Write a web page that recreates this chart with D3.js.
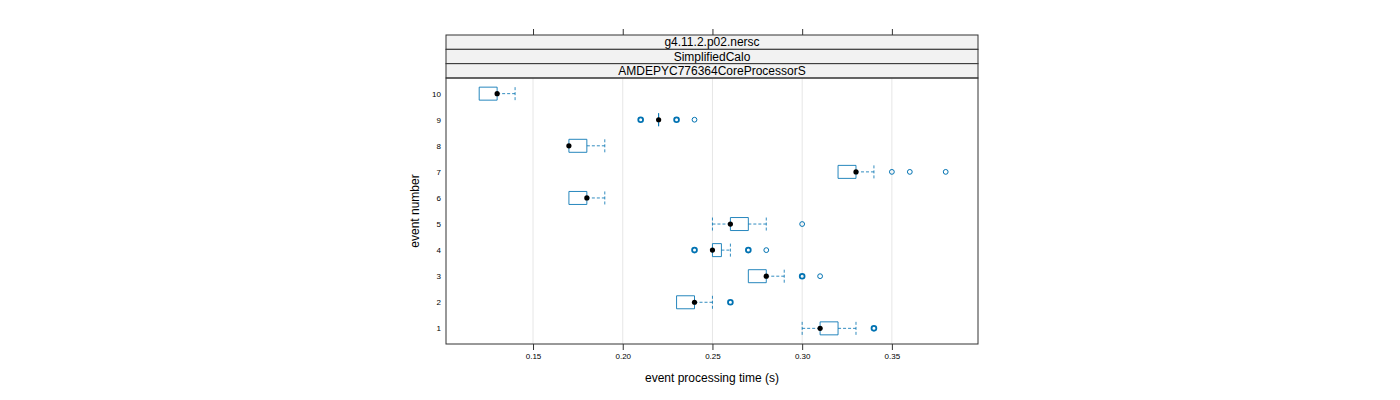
<!DOCTYPE html>
<html><head><meta charset="utf-8">
<script src="https://cdn.jsdelivr.net/npm/d3@7"></script>
<style>body{margin:0;background:#fff;}svg{display:block;font-family:"Liberation Sans",Arial,sans-serif;}</style>
</head><body>
<svg id="c" width="1400" height="400"></svg>
<script>
const events = [1,2,3,4,5,6,7,8,9,10];
const whiskerLo = [0.30,0.23,0.27,0.25,0.25,0.17,0.32,0.17,0.22,0.12];
const q1        = [0.31,0.23,0.27,0.25,0.26,0.17,0.32,0.17,0.22,0.12];
const medians   = [0.31,0.24,0.28,0.25,0.26,0.18,0.33,0.17,0.22,0.13];
const q3        = [0.32,0.24,0.28,0.255,0.27,0.18,0.33,0.18,0.22,0.13];
const whiskerHi = [0.33,0.25,0.29,0.26,0.28,0.19,0.34,0.19,0.22,0.14];
const outliers  = [[0.34,0.34],[0.26,0.26],[0.30,0.30,0.31],[0.24,0.24,0.27,0.27,0.28],[0.30],[],[0.35,0.36,0.38],[],[0.21,0.21,0.23,0.23,0.24],[]];
const xTicks = [0.15,0.20,0.25,0.30,0.35];
const strips = ["g4.11.2.p02.nersc","SimplifiedCalo","AMDEPYC776364CoreProcessorS"];

const svg = d3.select("#c");
const L=446,R=978,T=78,B=344;
const x = d3.scaleLinear().domain([0.1015,0.398]).range([L,R]);
const y = d3.scaleLinear().domain([0.4,10.6]).range([B,T]);
const blue="#0072B2";

// grid
svg.append("g").selectAll("line").data(xTicks).join("line")
  .attr("x1",d=>x(d)).attr("x2",d=>x(d)).attr("y1",T).attr("y2",B)
  .attr("stroke","#e6e6e6").attr("stroke-width",1);

// strips
const sh=(T-35)/3;
strips.forEach((s,i)=>{
  const yy=35+i*sh;
  svg.append("rect").attr("x",L).attr("y",yy).attr("width",R-L).attr("height",sh)
    .attr("fill","#f2f2f2").attr("stroke","#333").attr("stroke-width",1);
  svg.append("text").attr("x",(L+R)/2).attr("y",yy+sh/2+4.3).attr("text-anchor","middle")
    .attr("font-size",12).attr("fill","#000").text(s);
});

// axes
const gBottom = svg.append("g").attr("transform",`translate(0,${B})`)
  .call(d3.axisBottom(x).tickValues(xTicks).tickFormat(d3.format(".2f")).tickSize(6).tickPadding(3));
const gTop = svg.append("g").attr("transform",`translate(0,35)`)
  .call(d3.axisTop(x).tickValues(xTicks).tickFormat("").tickSize(6));
const gLeft = svg.append("g").attr("transform",`translate(${L},0)`)
  .call(d3.axisLeft(y).tickValues(events).tickFormat(d3.format("d")).tickSize(0).tickPadding(5));
[gBottom,gTop,gLeft].forEach(g=>{
  g.select(".domain").remove();
  g.selectAll("line").attr("stroke","#333");
  g.selectAll("text").attr("font-size",8).attr("fill","#000").attr("font-family","Liberation Sans, Arial, sans-serif");
});

// boxes
const gb = svg.append("g");
events.forEach((e,i)=>{
  const cy=y(e), h=13;
  const dash="3,2";
  if (whiskerLo[i] < q1[i]) {
    gb.append("line").attr("x1",x(whiskerLo[i])).attr("x2",x(q1[i])).attr("y1",cy).attr("y2",cy)
      .attr("stroke",blue).attr("stroke-dasharray",dash).attr("opacity",0.8);
    gb.append("line").attr("x1",x(whiskerLo[i])).attr("x2",x(whiskerLo[i])).attr("y1",cy-h/2).attr("y2",cy+h/2)
      .attr("stroke",blue).attr("stroke-dasharray",dash).attr("opacity",0.8);
  }
  if (whiskerHi[i] > q3[i]) {
    gb.append("line").attr("x1",x(q3[i])).attr("x2",x(whiskerHi[i])).attr("y1",cy).attr("y2",cy)
      .attr("stroke",blue).attr("stroke-dasharray",dash).attr("opacity",0.8);
    gb.append("line").attr("x1",x(whiskerHi[i])).attr("x2",x(whiskerHi[i])).attr("y1",cy-h/2).attr("y2",cy+h/2)
      .attr("stroke",blue).attr("stroke-dasharray",dash).attr("opacity",0.8);
  }
  const p = d3.path();
  const x0=x(q1[i]), x1=x(q3[i]);
  p.moveTo(x0,cy-h/2); p.lineTo(x1,cy-h/2); p.lineTo(x1,cy+h/2); p.lineTo(x0,cy+h/2); p.closePath();
  gb.append("path").attr("d",p.toString()).attr("fill","none").attr("stroke",blue)
    .attr("stroke-width",1).attr("opacity",0.85);
  const counts=d3.rollup(outliers[i],v=>v.length,d=>d);
  counts.forEach((n,v)=>{
    gb.append("circle").attr("cx",x(v)).attr("cy",cy).attr("r",2.4)
      .attr("fill","none").attr("stroke",blue).attr("stroke-width",n>1?1.8:1);
  });
  gb.append("circle").attr("cx",x(medians[i])).attr("cy",cy).attr("r",2.6).attr("fill","#000");
});

// panel border
svg.append("rect").attr("x",L).attr("y",T).attr("width",R-L).attr("height",B-T)
  .attr("fill","none").attr("stroke","#333").attr("stroke-width",1);

// titles
svg.append("text").attr("x",(L+R)/2).attr("y",382).attr("text-anchor","middle")
  .attr("font-size",12).text("event processing time (s)");
svg.append("text").attr("transform",`translate(419,${(T+B)/2}) rotate(-90)`).attr("text-anchor","middle")
  .attr("font-size",12).text("event number");
</script>
</body></html>
